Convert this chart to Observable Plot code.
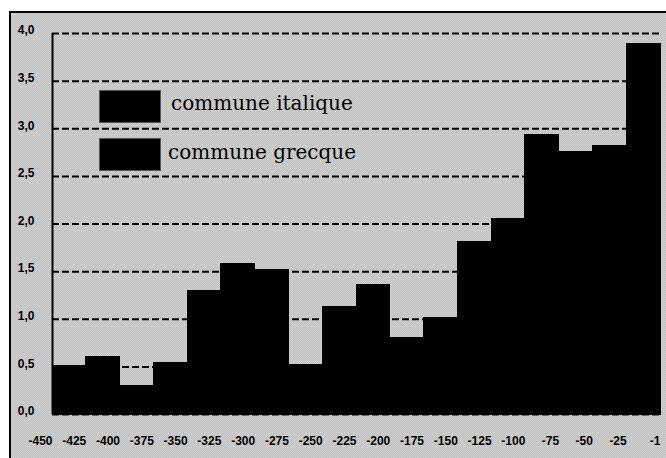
<!DOCTYPE html>
<html>
<head>
<meta charset="utf-8">
<script src="https://cdn.jsdelivr.net/npm/d3@7"></script>
<script src="https://cdn.jsdelivr.net/npm/@observablehq/plot@0.6"></script>
<style>
  html, body { margin: 0; padding: 0; background: #fff; }
  #wrap { position: relative; width: 666px; height: 458px; overflow: hidden; }
  #frame { position: absolute; left: 9px; top: 11px; width: 657px; height: 447px;
           border-left: 2px solid #000; border-top: 2px solid #000;
           background-color: #c8c8c8;
           background-image: repeating-conic-gradient(#bebebe 0 25%, #d2d2d2 0 50%);
           background-size: 2px 2px; }
  #chart { position: absolute; left: 0; top: 0; }
  .leg { position: absolute; font-family: "DejaVu Serif", serif; font-size: 20px; color: #000; }
  .box { position: absolute; width: 60px; height: 31px; background: #000; border: 1px solid #555; }
</style>
</head>
<body>
<div id="wrap">
  <div id="frame"></div>
  <div id="chart"></div>
  <div class="box" style="left:99px; top:90px;"></div>
  <div class="leg" style="left:171px; top:91px;">commune italique</div>
  <div class="box" style="left:99px; top:138px;"></div>
  <div class="leg" style="left:168px; top:140px;">commune grecque</div>
</div>
<script>
const periodStart = [-450,-425,-400,-375,-350,-325,-300,-275,-250,-225,-200,-175,-150,-125,-100,-75,-50,-25];
const values = [0.51,0.60,0.30,0.54,1.30,1.58,1.52,0.52,1.13,1.36,0.80,1.01,1.81,2.05,2.93,2.76,2.82,3.89];
const xTickValues = [-450,-425,-400,-375,-350,-325,-300,-275,-250,-225,-200,-175,-150,-125,-100,-75,-50,-25,0];
const xTickLabels = ["-450","-425","-400","-375","-350","-325","-300","-275","-250","-225","-200","-175","-150","-125","-100","-75","-50","-25","-1"];
const yTickValues = [0,0.5,1,1.5,2,2.5,3,3.5,4];
const yTickLabels = ["0,0","0,5","1,0","1,5","2,0","2,5","3,0","3,5","4,0"];

const data = periodStart.map((s, i) => ({start: s, end: s + 25, value: values[i]}));

const chart = Plot.plot({
  width: 666,
  height: 458,
  marginLeft: 52,
  marginRight: 6,
  marginTop: 33,
  marginBottom: 44,
  style: {background: "transparent", fontFamily: "Liberation Sans, Arial, sans-serif", fontWeight: "bold", fontSize: "12px", color: "#000"},
  x: {type: "linear", domain: [-450, 0]},
  y: {domain: [0, 4]},
  marks: [
    Plot.ruleY(yTickValues, {stroke: "#000", strokeWidth: 2, strokeDasharray: "7,3"}),
    Plot.rect(data, {x1: "start", x2: "end", y1: 0, y2: "value", fill: "#000", stroke: "#000", strokeWidth: 1, shapeRendering: "crispEdges"}),
    Plot.ruleX([-450], {y1: 0, y2: 4, stroke: "#000", strokeWidth: 2}),
    Plot.axisY(yTickValues, {tickSize: 0, tickPadding: 18, dy: -3, label: null,
      tickFormat: d => yTickLabels[yTickValues.indexOf(d)]}),
    Plot.axisX(xTickValues, {tickSize: 0, tickPadding: 22, textAnchor: "end", dx: 0, label: null,
      tickFormat: d => xTickLabels[xTickValues.indexOf(d)]})
  ]
});
document.getElementById("chart").appendChild(chart);
</script>
</body>
</html>
